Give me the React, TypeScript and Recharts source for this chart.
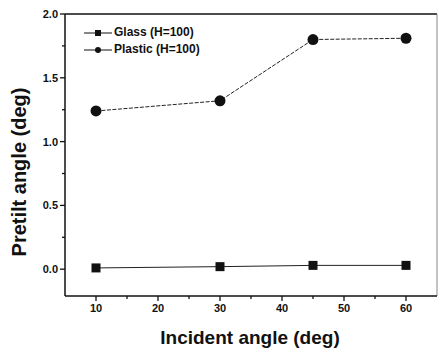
import React from 'react';
import { LineChart, Line, XAxis, YAxis, ReferenceLine } from 'recharts';

const angles = [10, 30, 45, 60];
const glass = [0.01, 0.02, 0.03, 0.03];
const plastic = [1.24, 1.32, 1.8, 1.81];
const xTicks = [5, 10, 15, 20, 25, 30, 35, 40, 45, 50, 55, 60, 65];
const yTicks = [-0.25, 0, 0.25, 0.5, 0.75, 1.0, 1.25, 1.5, 1.75, 2.0];
const yLabels = [0, 0.5, 1.0, 1.5, 2.0];
const xLabels = [10, 20, 30, 40, 50, 60];

const data = angles.map((a, i) => ({ angle: a, glass: glass[i], plastic: plastic[i] }));

const font = 'Arial, "Liberation Sans", sans-serif';

const XTick = (props: any) => {
  const { x, y, payload } = props;
  const v = payload.value;
  if (v < 6 || v > 64) return null;
  const major = xLabels.includes(v);
  return (
    <g>
      <line x1={x} x2={x} y1={y} y2={y + (major ? 5 : 3)} stroke="#111" strokeWidth={1.3} />
      {major && (
        <text x={x} y={y + 16} textAnchor="middle" fontSize={11} fontWeight="bold" fill="#111" fontFamily={font}>
          {v}
        </text>
      )}
    </g>
  );
};

const YTick = (props: any) => {
  const { x, y, payload } = props;
  const v = payload.value;
  if (v < -0.2) return null;
  const major = yLabels.some((m) => Math.abs(m - v) < 1e-6);
  return (
    <g>
      <line x1={x - (major ? 5 : 3)} x2={x} y1={y} y2={y} stroke="#111" strokeWidth={1.3} />
      {major && (
        <text x={x - 7} y={y + 4} textAnchor="end" fontSize={11} fontWeight="bold" fill="#111" fontFamily={font}>
          {v.toFixed(1)}
        </text>
      )}
    </g>
  );
};

const Square = (props: any) => {
  const { cx, cy } = props;
  return <rect x={cx - 4.5} y={cy - 4.5} width={9} height={9} fill="#111" />;
};

const Dot = (props: any) => {
  const { cx, cy } = props;
  return <circle cx={cx} cy={cy} r={5.5} fill="#111" />;
};

const LegendBox = () => (
  <div
    style={{
      position: 'absolute',
      top: 24,
      left: 84,
      fontFamily: font,
      fontSize: 12,
      fontWeight: 'bold',
      color: '#111',
      lineHeight: '17px',
    }}
  >
    <div style={{ display: 'flex', alignItems: 'center' }}>
      <svg width={28} height={10}>
        <line x1={0} x2={28} y1={5} y2={5} stroke="#111" strokeWidth={1} />
        <rect x={11} y={2} width={6} height={6} fill="#111" />
      </svg>
      <span style={{ marginLeft: 2 }}>Glass (H=100)</span>
    </div>
    <div style={{ display: 'flex', alignItems: 'center' }}>
      <svg width={28} height={10}>
        <line x1={0} x2={28} y1={5} y2={5} stroke="#111" strokeWidth={1} />
        <circle cx={14} cy={5} r={3} fill="#111" />
      </svg>
      <span style={{ marginLeft: 2 }}>Plastic (H=100)</span>
    </div>
  </div>
);

export default function App() {
  return (
    <div style={{ position: 'absolute', left: 0, top: 0, width: 439, height: 354, background: '#fff' }}>
      <LineChart width={439} height={354} data={data} margin={{ top: 14, right: 2, bottom: 0, left: 0 }}>
        <XAxis
          dataKey="angle"
          type="number"
          domain={[5, 65]}
          ticks={xTicks}
          interval={0}
          tickSize={0}
          tickMargin={0}
          tickLine={false}
          tick={<XTick />}
          height={58}
          axisLine={{ stroke: '#111', strokeWidth: 1.5 }}
        />
        <YAxis
          type="number"
          domain={[-0.21, 2.0]}
          ticks={yTicks}
          interval={0}
          tickSize={0}
          tickMargin={0}
          tickLine={false}
          tick={<YTick />}
          width={65}
          allowDataOverflow
          axisLine={{ stroke: '#111', strokeWidth: 1.5 }}
        />
        <ReferenceLine y={2.0} stroke="#111" strokeWidth={1.5} />
        <ReferenceLine x={65} stroke="#888" strokeWidth={1} />
        <Line
          dataKey="glass"
          stroke="#222"
          strokeWidth={1}
          dot={<Square />}
          isAnimationActive={false}
        />
        <Line
          dataKey="plastic"
          stroke="#222"
          strokeWidth={1}
          strokeDasharray="4 1.5"
          dot={<Dot />}
          isAnimationActive={false}
        />
        <text x={250} y={344} textAnchor="middle" fontSize={19} fontWeight="bold" fill="#111" fontFamily={font}>
          Incident angle (deg)
        </text>
        <text
          x={26}
          y={172}
          textAnchor="middle"
          fontSize={20}
          fontWeight="bold"
          fill="#111"
          fontFamily={font}
          transform="rotate(-90 26 172)"
        >
          Pretilt angle (deg)
        </text>
      </LineChart>
      <LegendBox />
    </div>
  );
}
